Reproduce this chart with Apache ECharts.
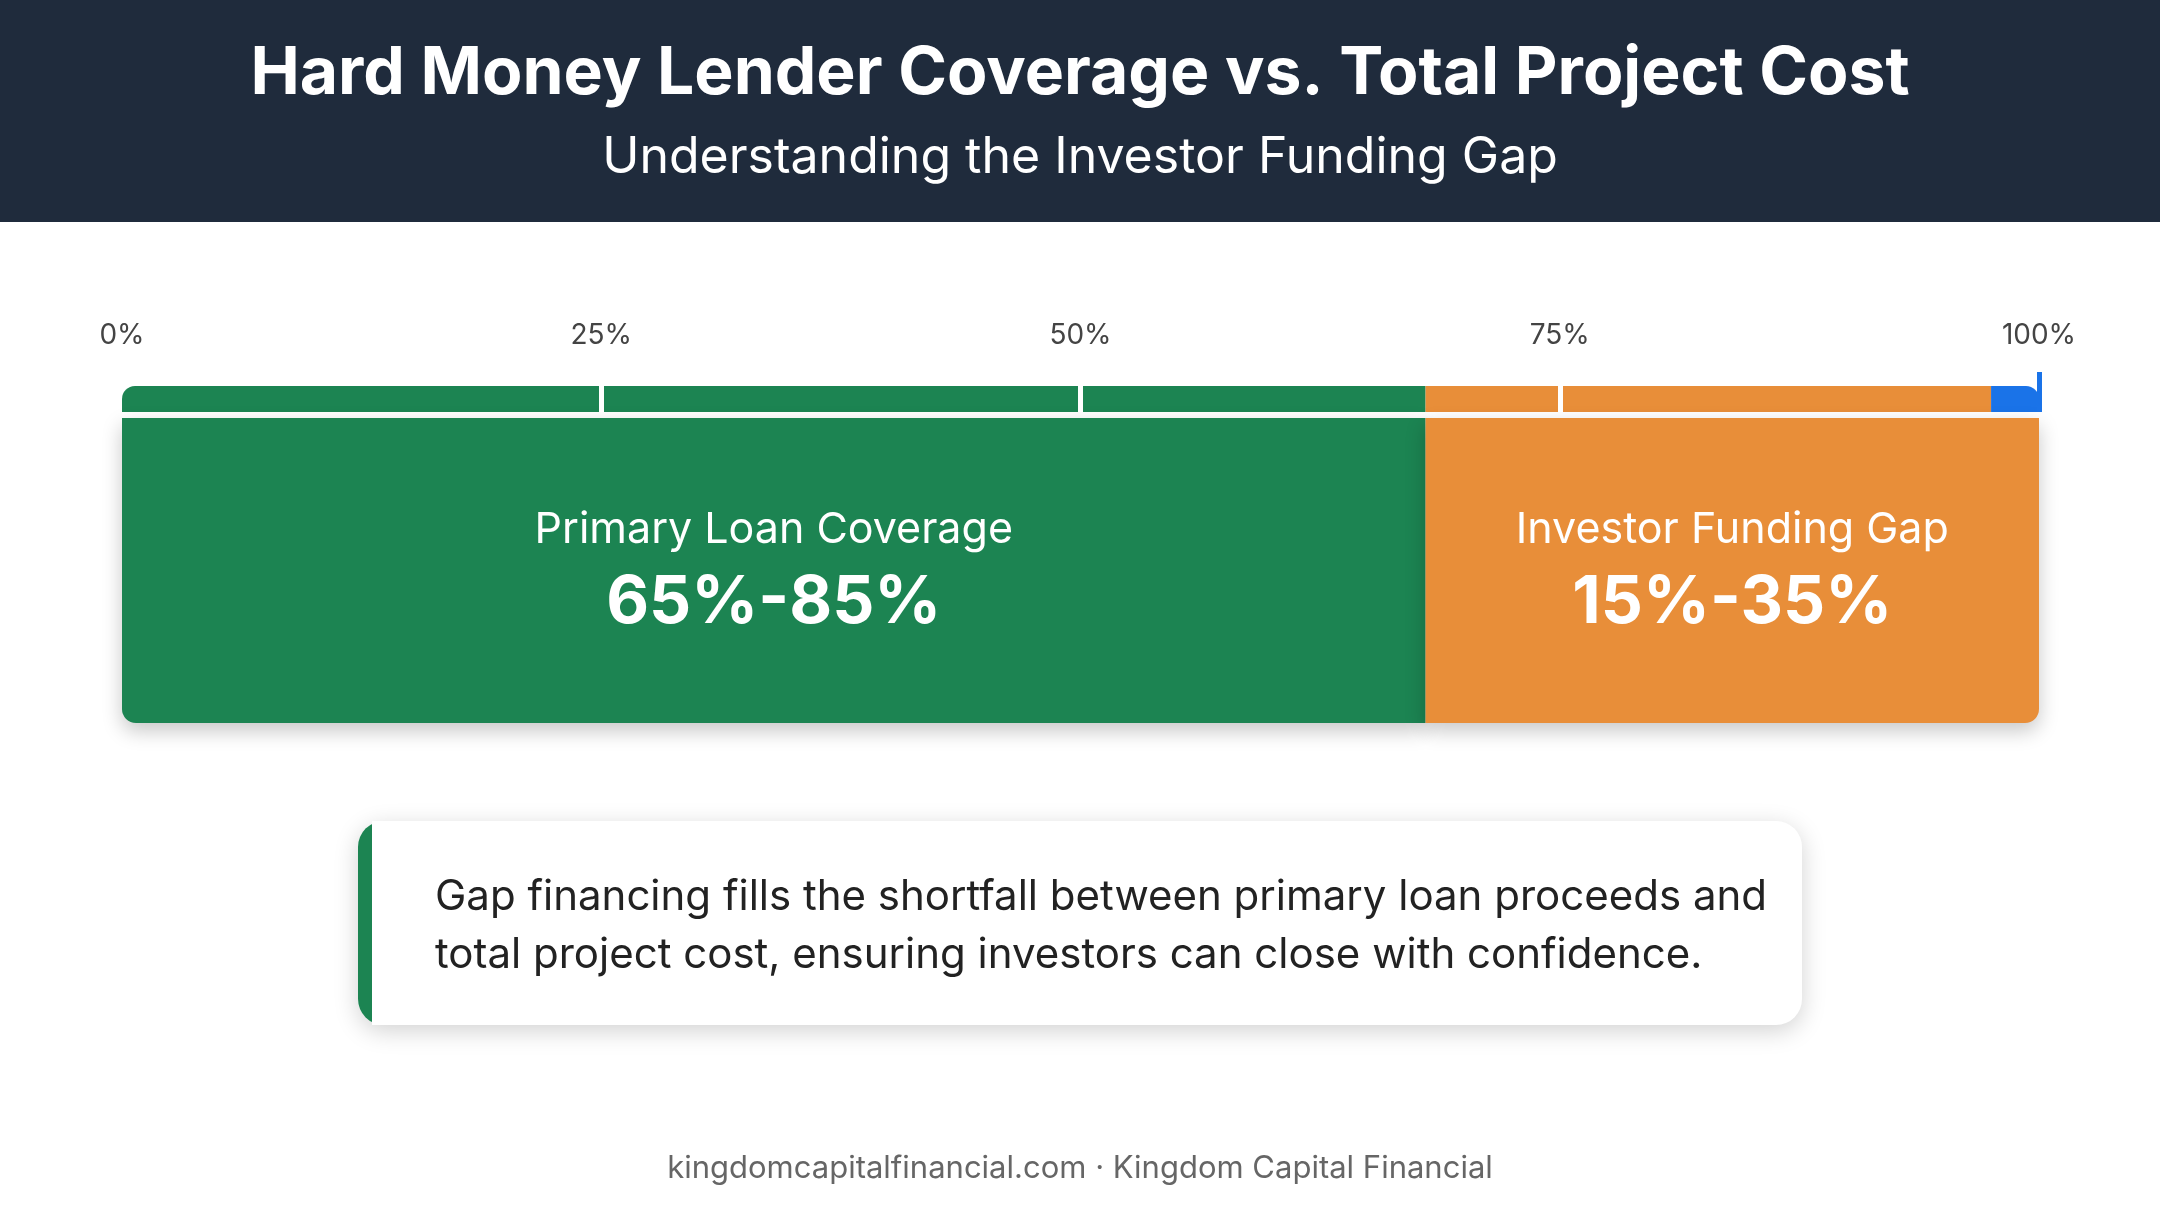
<!DOCTYPE html>
<html>
<head>
<meta charset="utf-8">
<script src="https://cdn.jsdelivr.net/npm/echarts@6/dist/echarts.min.js"></script>
<style>
  html, body { margin: 0; padding: 0; background: #fff; }
  #chart { width: 2160px; height: 1206px; }
</style>
</head>
<body>
<div id="chart"></div>
<script>
// data
var segments = ['Primary Loan Coverage', 'Investor Funding Gap'];
var segmentValues = [68, 32];
var segmentRanges = ['65%-85%', '15%-35%'];
var stripValues = [68, 29.5, 2.5];
var tickMarks = [25, 50, 75];
var colors = ['#1c8452', '#e88e39', '#1a73e8'];

var myChart = echarts.init(document.getElementById('chart'));
var F = 'Inter, "Open Sans", sans-serif';

var option = {
  animation: false,
  title: [
    {
      text: 'Hard Money Lender Coverage vs. Total Project Cost',
      left: 'center', top: 36,
      textStyle: { color: '#fff', fontSize: 66, fontWeight: 'bold', fontFamily: F }
    },
    {
      text: 'Understanding the Investor Funding Gap',
      left: 'center', top: 128,
      textStyle: { color: '#fff', fontSize: 50, fontWeight: 'normal', fontFamily: F }
    },
    {
      text: 'kingdomcapitalfinancial.com · Kingdom Capital Financial',
      left: 'center', top: 1148,
      textStyle: { color: '#666', fontSize: 31, fontWeight: 'normal', fontFamily: F }
    }
  ],
  graphic: [
    { type: 'rect', z: -10, shape: { x: 0, y: 0, width: 2160, height: 222 }, style: { fill: '#1f2b3c' } },
    {
      type: 'rect', z: 1,
      shape: { x: 358, y: 821, width: 1444, height: 204, r: 26 },
      style: { fill: '#fff', shadowBlur: 24, shadowColor: 'rgba(0,0,0,0.18)', shadowOffsetY: 6 }
    },
    {
      type: 'rect', z: 2,
      shape: { x: 358, y: 821, width: 40, height: 204, r: [26, 0, 0, 26] },
      style: { fill: '#1c8452' }
    },
    {
      type: 'rect', z: 3,
      shape: { x: 372, y: 821, width: 40, height: 204 },
      style: { fill: '#fff' }
    },
    {
      type: 'text', z: 4, left: 435, top: 868,
      style: {
        text: 'Gap financing fills the shortfall between primary loan proceeds and\ntotal project cost, ensuring investors can close with confidence.',
        fill: '#222', fontSize: 42, lineHeight: 58, fontFamily: F
      }
    }
  ],
  grid: [
    { left: 122, right: 121, top: 386, height: 26 },
    { left: 122, right: 121, top: 418, height: 305 }
  ],
  xAxis: [
    {
      gridIndex: 0, type: 'value', min: 0, max: 100, interval: 25, position: 'top',
      axisLine: { show: false }, axisTick: { show: false }, splitLine: { show: false },
      axisLabel: { formatter: '{value}%', color: '#444', fontSize: 28, margin: 36, fontFamily: F }
    },
    {
      gridIndex: 1, type: 'value', min: 0, max: 100, show: false
    }
  ],
  yAxis: [
    { gridIndex: 0, type: 'category', data: ['strip'], show: false },
    { gridIndex: 1, type: 'category', data: ['main'], show: false }
  ],
  series: []
};

stripValues.forEach(function (v, i) {
  var s = {
    type: 'bar', xAxisIndex: 0, yAxisIndex: 0, stack: 'strip', barWidth: '100%',
    data: [v], itemStyle: { color: colors[i], borderRadius: i === 0 ? [13, 0, 0, 0] : (i === 2 ? [0, 13, 0, 0] : 0) },
    z: 2
  };
  if (i === 0) {
    s.markLine = {
      silent: true, symbol: 'none', label: { show: false },
      lineStyle: { color: '#fff', width: 5, type: 'solid' },
      data: tickMarks.map(function (t) { return { xAxis: t }; }),
      z: 5
    };
  }
  if (i === 2) {
    s.markLine = {
      silent: true, symbol: 'none', label: { show: false },
      lineStyle: { color: colors[2], width: 5, type: 'solid' },
      data: [[{ coord: [100, 'strip'], y: 372 }, { coord: [100, 'strip'], y: 412 }]]
    };
  }
  option.series.push(s);
});

segmentValues.forEach(function (v, i) {
  option.series.push({
    type: 'bar', xAxisIndex: 1, yAxisIndex: 1, stack: 'main', barWidth: '100%',
    name: segments[i],
    data: [v],
    itemStyle: {
      color: colors[i],
      borderRadius: i === 0 ? [0, 0, 0, 14] : [0, 0, 14, 0],
      shadowBlur: 20, shadowColor: 'rgba(0,0,0,0.22)', shadowOffsetY: 8
    },
    label: {
      show: true, position: 'inside',
      formatter: '{a|' + segments[i] + '}\n{b|' + segmentRanges[i] + '}',
      rich: {
        a: { color: '#fff', fontSize: 43, fontFamily: F, lineHeight: 66 },
        b: { color: '#fff', fontSize: 66, fontWeight: 'bold', fontFamily: F, lineHeight: 80 }
      }
    }
  });
});

myChart.setOption(option);
$ = null;
</script>
</body>
</html>
